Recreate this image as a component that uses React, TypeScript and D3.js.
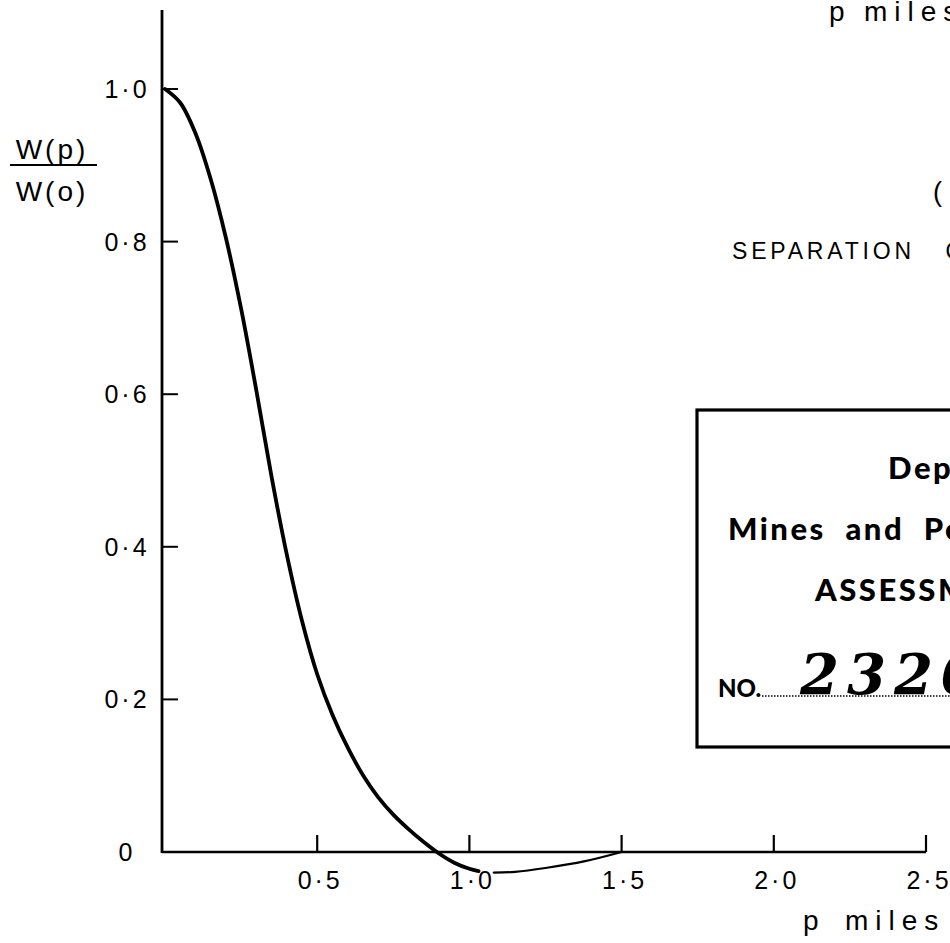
import React from "react";
import * as d3 from "d3";

// values
const pMiles = [0, 0.05, 0.1, 0.15, 0.2, 0.25, 0.3, 0.35, 0.4, 0.45, 0.5, 0.55, 0.6, 0.65, 0.7, 0.75, 0.8, 0.85, 0.9, 0.95, 1.0, 1.03];
const ratio = [1.0, 0.982, 0.942, 0.882, 0.805, 0.712, 0.605, 0.492, 0.39, 0.303, 0.233, 0.18, 0.137, 0.101, 0.072, 0.049, 0.03, 0.013, -0.002, -0.014, -0.022, -0.025];
// thinner tail after p = 1
const pTail = [1.08, 1.15, 1.25, 1.38, 1.5];
const ratioTail = [-0.027, -0.026, -0.021, -0.012, 0.0];

const xTicks = [0.5, 1.0, 1.5, 2.0, 2.5];
const xTickLabels = ["0·5", "1·0", "1·5", "2·0", "2·5"];
const yTicks = [0, 0.2, 0.4, 0.6, 0.8, 1.0];
const yTickLabels = ["0", "0·2", "0·4", "0·6", "0·8", "1·0"];

const W = 950;
const H = 943;
const font = "'Liberation Sans', Arial, sans-serif";
const boxFont = "Lato, 'Liberation Sans', sans-serif";

export default function App() {
  const x = d3.scaleLinear().domain([0, 2.5]).range([165, 926]);
  const y = d3.scaleLinear().domain([0, 1]).range([852, 89]);
  const axisX = 162;

  const line = d3
    .line<[number, number]>()
    .x((d) => x(d[0]))
    .y((d) => y(d[1]))
    .curve(d3.curveCatmullRom.alpha(0.5));

  const main = pMiles.map((p, i) => [p, ratio[i]] as [number, number]);
  const tail = pTail.map((p, i) => [p, ratioTail[i]] as [number, number]);

  return (
    <svg
      width={W}
      height={H}
      style={{ position: "absolute", left: 0, top: 0, background: "#fff" }}
    >
      <rect x={0} y={0} width={W} height={H} fill="#fff" />

      {/* axes */}
      <line x1={axisX} x2={axisX} y1={10} y2={y(0) + 1} stroke="#000" strokeWidth={2.8} />
      <line x1={axisX} x2={x(2.5)} y1={y(0)} y2={y(0)} stroke="#000" strokeWidth={2.6} />

      {yTicks.filter((t) => t > 0).map((t) => (
        <line key={"yt" + t} x1={axisX} x2={axisX + 16} y1={y(t)} y2={y(t)} stroke="#000" strokeWidth={2} />
      ))}
      {yTicks.map((t, i) => (
        <text
          key={"yl" + t}
          x={127}
          y={y(t)}
          textAnchor="middle"
          dominantBaseline="central"
          fontFamily={font}
          fontSize={25}
          letterSpacing={3}
        >
          {yTickLabels[i]}
        </text>
      ))}

      {xTicks.map((t) => (
        <line key={"xt" + t} x1={x(t)} x2={x(t)} y1={y(0)} y2={y(0) - 17} stroke="#000" strokeWidth={2.2} />
      ))}
      {xTicks.map((t, i) => (
        <text
          key={"xl" + t}
          x={x(t) + 3}
          y={889}
          textAnchor="middle"
          fontFamily={font}
          fontSize={25}
          letterSpacing={3}
        >
          {xTickLabels[i]}
        </text>
      ))}

      {/* y label as fraction */}
      <text x={52} y={159} textAnchor="middle" fontFamily={font} fontSize={28} letterSpacing={3}>
        W(p)
      </text>
      <line x1={10} x2={97} y1={165} y2={165} stroke="#000" strokeWidth={1.8} />
      <text x={52} y={201} textAnchor="middle" fontFamily={font} fontSize={28} letterSpacing={3}>
        W(o)
      </text>

      {/* curve */}
      <path d={line(main) ?? ""} fill="none" stroke="#000" strokeWidth={3.8} strokeLinecap="round" />
      <path d={line(tail) ?? ""} fill="none" stroke="#000" strokeWidth={2.2} strokeLinecap="round" />

      {/* x axis title */}
      <text x={803} y={930} fontFamily={font} fontSize={28}>p</text>
      <text x={845} y={930} fontFamily={font} fontSize={28} letterSpacing={7}>miles</text>

      {/* cut-off title text on the right */}
      <text x={829} y={21} fontFamily={font} fontSize={28}>p</text>
      <text x={864} y={21} fontFamily={font} fontSize={28} letterSpacing={7}>miles</text>
      <text x={933} y={201} fontFamily={font} fontSize={27}>
        (
      </text>
      <text x={732} y={259} fontFamily={font} fontSize={23} letterSpacing={3.8} xmlSpace="preserve">
        {"SEPARATION   OF"}
      </text>

      {/* stamp box */}
      <rect x={697} y={410} width={400} height={337} fill="none" stroke="#000" strokeWidth={3.2} />
      <text x={888} y={479} fontFamily={boxFont} fontWeight={900} fontSize={31} letterSpacing={2.5}>
        Department of
      </text>
      <text x={728} y={540} fontFamily={boxFont} fontWeight={900} fontSize={31} letterSpacing={2.5} xmlSpace="preserve">
        {"Mines  and  Petroleum"}
      </text>
      <text x={815} y={601} fontFamily={boxFont} fontWeight={900} fontSize={31} letterSpacing={2.5}>
        ASSESSMENT
      </text>
      <text x={718} y={697} fontFamily={boxFont} fontWeight={900} fontSize={24}>
        NO.
      </text>
      <line x1={762} x2={950} y1={696} y2={696} stroke="#000" strokeWidth={1.6} strokeDasharray="1.5 1.5" />
      <text
        x={800}
        y={694}
        fontFamily="'DejaVu Serif', serif"
        fontWeight={700}
        fontStyle="italic"
        fontSize={56}
        letterSpacing={8}
      >
        2320
      </text>
    </svg>
  );
}
